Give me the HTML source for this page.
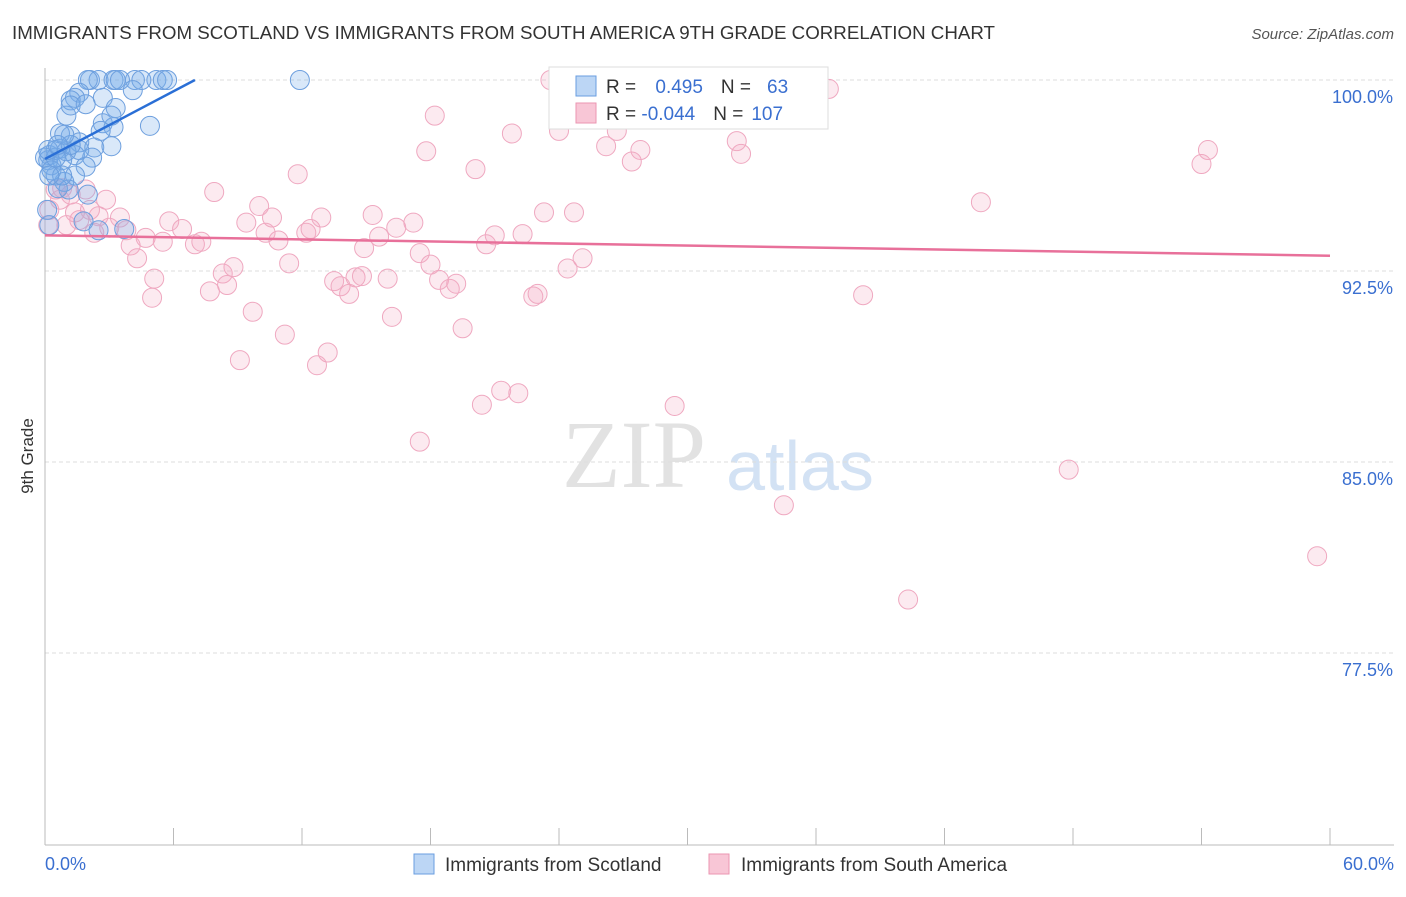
<!DOCTYPE html>
<html><head><meta charset="utf-8"><style>
body{margin:0;background:#fff;font-family:"Liberation Sans",sans-serif;}
</style></head><body>
<svg width="1406" height="892" xmlns="http://www.w3.org/2000/svg" style="font-family:'Liberation Sans',sans-serif">
<text x="12" y="39" font-size="18" fill="#333" textLength="983" lengthAdjust="spacingAndGlyphs">IMMIGRANTS FROM SCOTLAND VS IMMIGRANTS FROM SOUTH AMERICA 9TH GRADE CORRELATION CHART</text>
<text x="1394" y="39" font-size="15" fill="#555" text-anchor="end" font-style="italic">Source: ZipAtlas.com</text>
<text x="634" y="487" font-size="96" fill="#e2e2e2" text-anchor="middle" font-family="Liberation Serif">ZIP</text>
<text x="800" y="490" font-size="70" fill="#d3e2f4" text-anchor="middle">atlas</text>
<text transform="translate(33,456) rotate(-90)" font-size="17" fill="#333" text-anchor="middle">9th Grade</text>
<g id="grid"></g><g id="pts"></g><g id="lines"></g>
<g>
<rect x="549" y="67" width="279" height="62" fill="#fff" stroke="#ddd"/>
<rect x="576" y="76" width="20" height="20" fill="#bcd6f5" stroke="#6a9ee0"/>
<rect x="576" y="103" width="20" height="20" fill="#f8c6d6" stroke="#eb96b2"/>
<text x="606" y="93" font-size="19" fill="#333">R = <tspan fill="#3a6fd0" dx="14">0.495</tspan><tspan dx="18" fill="#333">N =</tspan><tspan dx="16" fill="#3a6fd0">63</tspan></text>
<text x="606" y="120" font-size="19" fill="#333">R = <tspan fill="#3a6fd0">-0.044</tspan><tspan dx="18" fill="#333">N =</tspan><tspan dx="8" fill="#3a6fd0">107</tspan></text>
</g>
<g>
<rect x="414" y="854" width="20" height="20" fill="#bcd6f5" stroke="#6a9ee0"/>
<text x="445" y="871" font-size="19" fill="#333">Immigrants from Scotland</text>
<rect x="709" y="854" width="20" height="20" fill="#f8c6d6" stroke="#eb96b2"/>
<text x="741" y="871" font-size="19" fill="#333">Immigrants from South America</text>
</g>
<text x="45" y="870" font-size="18" fill="#3a6fd0">0.0%</text>
<text x="1394" y="870" font-size="18" fill="#3a6fd0" text-anchor="end">60.0%</text>
</svg>
<script>
const yTicks=[100,92.5,85,77.5];
const yTickLabels=["100.0%","92.5%","85.0%","77.5%"];
const xTicks=[0,6,12,18,24,30,36,42,48,54,60];
const blueX=[2.1,2.5,3.2,3.3,4.2,5.2,5.5,5.7,11.9,2.0,3.5,4.5,1.6,1.4,1.2,2.7,4.1,1.0,1.2,1.9,3.3,2.7,3.2,4.9,1.2,0.7,1.6,1.4,2.3,3.1,2.2,1.9,1.4,0.9,0.5,0.2,0.15,0.3,0.5,0.7,0.8,1.0,0,1.1,0.6,2.0,1.8,2.5,3.7,0.2,0.1,0.3,0.5,0.8,0.15,3.1,2.6,1.6,1.2,0.9,0.6,0.2];
const blueY=[100,100,100,100,100,100,100,100,100,100,100,100,99.5,99.3,99.2,99.3,99.6,98.6,99.0,99.05,98.9,98.3,98.15,98.2,97.8,97.9,97.55,97.05,97.35,97.4,96.95,96.6,96.25,96.0,96.25,97.05,96.85,96.65,97.25,97.3,96.85,97.2,96.95,95.7,95.75,95.5,94.45,94.1,94.15,94.3,94.9,96.45,96.95,96.25,97.25,98.6,98.0,97.25,97.45,97.85,97.45,96.25];
const pinkX=[23.6,27.2,35.3,36.6,18.2,21.8,24.0,25.2,26.2,26.7,27.8,27.4,32.3,32.5,17.8,20.1,11.8,7.9,54.3,54.0,43.7,10.0,10.6,12.9,15.3,17.2,23.3,24.7,21.0,22.3,20.6,14.9,15.6,16.4,12.2,12.4,9.4,10.3,10.9,5.8,6.4,7.0,7.3,5.5,4.7,4.0,4.3,5.1,5.0,7.7,8.3,8.8,8.5,11.4,9.7,11.2,9.1,12.7,13.2,13.5,13.8,14.2,14.5,14.8,16.0,16.2,17.5,18.0,18.4,18.9,19.2,19.5,24.4,25.1,22.8,23.0,17.5,20.4,21.3,22.1,29.4,34.5,38.2,40.3,47.8,59.4,2.85,2.5,2.1,3.5,3.0,1.4,1.6,1.0,0.7,0.5,0.2,0.8,1.9,1.2,0.15,3.8,2.3];
const pinkY=[100,100,100,99.65,98.6,97.9,98.0,98.5,97.4,98.0,97.25,96.8,97.6,97.1,97.2,96.5,96.3,95.6,97.25,96.7,95.2,95.05,94.6,94.6,94.7,94.4,94.8,94.8,93.9,93.95,93.55,93.4,93.85,94.2,94.0,94.15,94.4,94.0,93.7,94.45,94.15,93.55,93.65,93.65,93.8,93.5,93.0,92.2,91.45,91.7,92.4,92.65,91.95,92.8,90.9,90.0,89.0,88.8,89.3,92.1,91.9,91.6,92.25,92.3,92.2,90.7,93.2,92.75,92.15,91.8,92.0,90.25,92.6,93.0,91.5,91.6,85.8,87.25,87.8,87.7,87.2,83.3,91.55,79.6,84.7,81.3,95.3,94.65,94.9,94.6,94.2,94.8,94.5,94.3,95.3,95.7,94.9,95.75,95.7,95.5,94.3,94.1,94.0];
const blueTrend=[0,96.9,7.0,100];
const pinkTrend=[0,93.9,60,93.1];
const NS="http://www.w3.org/2000/svg";
const X=v=>45+v*(1285/60), Y=v=>80+(100-v)*(191/7.5);
function mk(t,a,p){const e=document.createElementNS(NS,t);for(const k in a)e.setAttribute(k,a[k]);p.appendChild(e);return e;}
const g=document.getElementById('grid');
yTicks.forEach((t,i)=>{const l=mk('line',{x1:45,x2:1394,y1:Y(t),y2:Y(t),stroke:'#ddd','stroke-dasharray':'4,3'},g);


const tx=mk('text',{x:1393,y:Y(t)+23,'font-size':18,fill:'#3a6fd0','text-anchor':'end'},g);tx.textContent=yTickLabels[i];

});
const ax=mk('line',{x1:45,x2:1394,y1:845,y2:845,stroke:'#bbb'},g);


const ay=mk('line',{x1:45,x2:45,y1:68,y2:845,stroke:'#bbb'},g);


xTicks.forEach(t=>{const l=mk('line',{x1:X(t),x2:X(t),y1:828,y2:845,stroke:'#bbb'},g);

});
const p=document.getElementById('pts');
pinkX.forEach((v,i)=>{const c=mk('circle',{cx:X(v),cy:Y(pinkY[i]),r:9.5,fill:'rgba(245,170,195,0.25)',stroke:'#efa8c0','stroke-width':1},p);

});
blueX.forEach((v,i)=>{const c=mk('circle',{cx:X(v),cy:Y(blueY[i]),r:9.5,fill:'rgba(120,172,232,0.28)',stroke:'#6d9fde','stroke-width':1},p);

});
const L=document.getElementById('lines');
const bl=mk('line',{x1:X(blueTrend[0]),y1:Y(blueTrend[1]),x2:X(blueTrend[2]),y2:Y(blueTrend[3]),stroke:'#2a6fd6','stroke-width':2.5},L);


const pl=mk('line',{x1:X(pinkTrend[0]),y1:Y(pinkTrend[1]),x2:X(pinkTrend[2]),y2:Y(pinkTrend[3]),stroke:'#e8709a','stroke-width':2.5},L);


</script>
</body></html>
